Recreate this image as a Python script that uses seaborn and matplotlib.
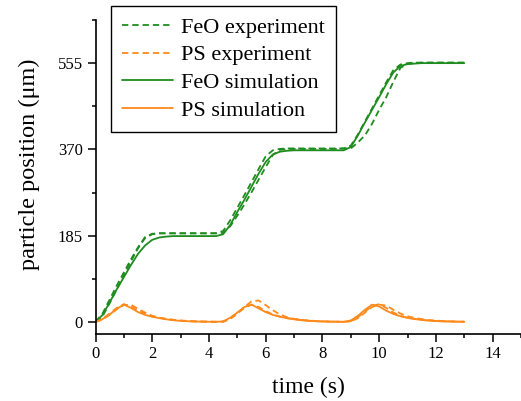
import numpy as np
import pandas as pd
import matplotlib
matplotlib.use("Agg")
import matplotlib.pyplot as plt
from matplotlib.ticker import MultipleLocator
import seaborn as sns

# time grid shared by all traces (s)
time_s = [i * 0.25 for i in range(53)]

# FeO particle position (um)
feo_sim = [0, 15, 42, 70, 96, 122, 146, 164, 176, 181, 183, 184, 184, 184, 184, 184, 184, 184,
           188, 208, 236, 262, 290, 318, 343, 359, 365, 367, 368, 368, 368, 368, 368, 368, 368, 368,
           375, 400, 428, 455, 482, 510, 535, 549, 553, 554, 555, 555, 555, 555, 555, 555, 555]
feo_exp_a = [0, 18, 48, 78, 106, 134, 160, 182, 189, 190, 190, 190, 190, 190, 190, 190, 190, 190,
             195, 218, 245, 272, 300, 328, 355, 368, 371, 372, 372, 372, 372, 372, 372, 372, 372, 372,
             378, 402, 430, 458, 486, 514, 540, 552, 555, 556, 556, 556, 556, 556, 556, 556, 556]
feo_exp_b = [0, 12, 40, 70, 100, 130, 158, 180, 188, 190, 190, 190, 190, 190, 190, 190, 190, 190,
             191, 205, 228, 252, 278, 305, 332, 358, 369, 371, 371, 371, 371, 371, 371, 371, 371, 372,
             372, 385, 400, 425, 455, 482, 515, 545, 553, 555, 556, 556, 556, 556, 556, 556, 556]

# PS particle position (um)
ps_sim = [0, 6, 16, 28, 37, 30, 21, 15, 11, 8, 5.5, 3.5, 2.2, 1.4, 0.8, 0.5, 0.3, 0.1,
          1, 9, 20, 32, 37, 29, 21, 15, 11, 8, 5.5, 3.5, 2.2, 1.4, 0.8, 0.5, 0.3, 0.1,
          3, 13, 26, 37, 33, 24, 17, 12, 8.5, 6, 4, 2.6, 1.7, 1.1, 0.7, 0.4, 0.2]
ps_exp_a = [0, 7, 18, 30, 38, 33, 24, 17, 12, 8.5, 6, 4, 2.5, 1.5, 1, 0.6, 0.3, 0.2,
            0.5, 7, 18, 30, 37, 32, 23, 16, 11.5, 8, 6, 4, 2.5, 1.5, 1, 0.6, 0.3, 0.2,
            1.5, 10, 22, 34, 38, 30, 20, 13, 9, 6.5, 4.5, 3, 2, 1.3, 0.8, 0.5, 0.3]
ps_exp_b = [0, 5, 15, 27, 36, 37, 28, 20, 13, 9, 6.5, 4.5, 3, 2, 1.2, 0.7, 0.4, 0.2,
            0.3, 6, 18, 32, 44, 46, 36, 25, 16, 10, 6.5, 4.5, 3, 2, 1.2, 0.7, 0.4, 0.2,
            1, 8, 20, 32, 37, 35, 26, 18, 12, 8.5, 6, 4, 2.7, 1.8, 1.1, 0.7, 0.4]

y_ticks = [0, 185, 370, 555]
x_ticks = [0, 2, 4, 6, 8, 10, 12, 14]

GREEN = "#1e8c1e"
ORANGE = "#ff8a1c"

sns.set_style("ticks")
plt.rcParams["font.family"] = ["Liberation Serif", "DejaVu Serif"]
plt.rcParams["text.color"] = "black"
plt.rcParams["axes.labelcolor"] = "black"

fig = plt.figure(figsize=(5.21, 4.01), dpi=100)
ax = fig.add_axes([95.5 / 521, 67 / 401, 1 - 95.5 / 521, (334 - 20) / 401])

series = [
    (feo_exp_a, GREEN, (0, (3.5, 2.2)), "FeO experiment"),
    (feo_exp_b, GREEN, (0, (3.5, 2.2)), None),
    (ps_exp_a, ORANGE, (0, (3.5, 2.2)), "PS experiment"),
    (ps_exp_b, ORANGE, (0, (3.5, 2.2)), None),
    (feo_sim, GREEN, "-", "FeO simulation"),
    (ps_sim, ORANGE, "-", "PS simulation"),
]
for vals, color, ls, label in series:
    df = pd.DataFrame({"t": time_s, "pos": vals})
    sns.lineplot(data=df, x="t", y="pos", ax=ax, color=color, linestyle=ls,
                 linewidth=1.3, label=label if label else "_nolegend_")

ax.set_xlim(0, 15)
ax.set_ylim(-26, 647.5)
ax.set_xticks(x_ticks)
ax.set_yticks(y_ticks)
ax.xaxis.set_minor_locator(MultipleLocator(1))
ax.yaxis.set_minor_locator(MultipleLocator(92.5))
ax.tick_params(axis="both", which="major", direction="out", length=6, width=1.1,
               labelsize=12, pad=3, color="black", labelcolor="black")
ax.tick_params(axis="both", which="minor", direction="out", length=3, width=1.1, color="black")
for side in ("top", "right"):
    ax.spines[side].set_visible(False)
for side in ("left", "bottom"):
    ax.spines[side].set_linewidth(1.2)
    ax.spines[side].set_color("black")

ax.set_xlabel("time (s)", fontsize=17, labelpad=10, color="black")
ax.set_ylabel("particle position (μm)", fontsize=17.5, color="black")
ax.yaxis.set_label_coords(-0.13, 0.54)

leg = ax.legend(loc="upper left", bbox_to_anchor=(111 / 521, 1 - 6 / 401),
                bbox_transform=fig.transFigure, fontsize=16, frameon=True, fancybox=False,
                edgecolor="black", handlelength=2.3, handletextpad=0.35, labelspacing=0.32,
                borderpad=0.5, borderaxespad=0)
leg.get_frame().set_linewidth(1.0)
leg.get_frame().set_alpha(1)
for txt in leg.get_texts():
    txt.set_color("black")

fig.savefig("out.png", dpi=100)
